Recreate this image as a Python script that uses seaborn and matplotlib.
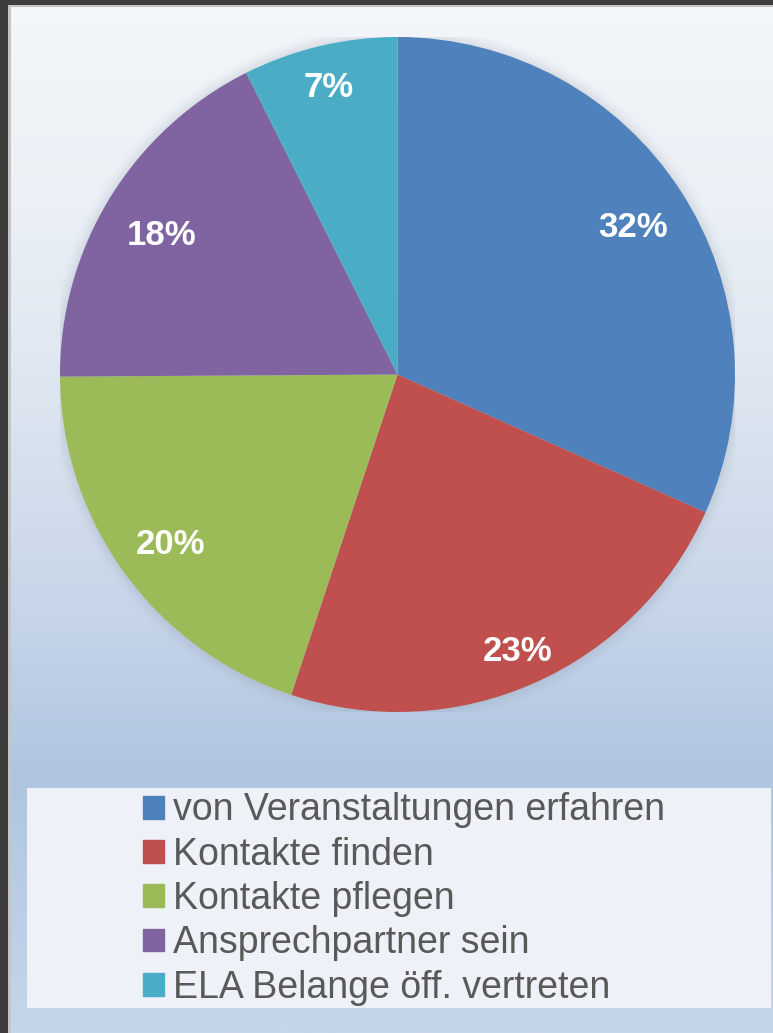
import numpy as np
import matplotlib
matplotlib.use("Agg")
import matplotlib.pyplot as plt
from matplotlib.patches import Rectangle, Circle
from matplotlib.colors import LinearSegmentedColormap
import seaborn as sns

# ---- data ----
categories = ["von Veranstaltungen erfahren", "Kontakte finden", "Kontakte pflegen",
              "Ansprechpartner sein", "ELA Belange öff. vertreten"]
values = [31.7, 23.4, 19.8, 17.7, 7.4]
colors = ["#4f81bd", "#c0504d", "#9bbb59", "#8064a2", "#4bacc6"]
label_dist = [0.83, 0.88, 0.83, 0.82, 0.89]

sns.set_style("white")
plt.rcParams["font.family"] = ["Liberation Sans", "DejaVu Sans"]

W, H = 773, 1033
fig = plt.figure(figsize=(W / 100, H / 100), dpi=100)

# ---- background gradient ----
bg = fig.add_axes([0, 0, 1, 1], zorder=0)
bg.set_axis_off()
stops = [(0.0, "#f3f6fa"), (0.2, "#ebf0f6"), (0.39, "#dce5f0"),
         (0.58, "#c8d6e9"), (0.755, "#afc5e0"), (1.0, "#c6d6ea")]
cmap = LinearSegmentedColormap.from_list("bg", stops)
grad = np.linspace(0, 1, 512).reshape(-1, 1)
bg.imshow(grad, aspect="auto", cmap=cmap, extent=[0, W, H, 0])
bg.set_xlim(0, W)
bg.set_ylim(H, 0)
# dark window border (top / left) and light inner line
bg.add_patch(Rectangle((0, 0), W, 5, color="#3d3d3d", lw=0))
bg.add_patch(Rectangle((0, 5), W, 2, color="#c4c4c4", lw=0))
bg.add_patch(Rectangle((0, 0), 8, H, color="#3d3d3d", lw=0))
bg.add_patch(Rectangle((8, 5), 3, H, color="#c4c4c4", lw=0))
# legend background
bg.add_patch(Rectangle((27, 788), 744, 220, color="#eef2f8", lw=0))

# ---- pie ----
cx, cy, r = 397.5, 374.5, 337.5
ax = fig.add_axes([(cx - r) / W, (H - cy - r) / H, 2 * r / W, 2 * r / H], zorder=2)
# soft halo
for i, a in enumerate(np.linspace(0.05, 0.01, 6)):
    ax.add_patch(Circle((0, 0), 1.0 + 0.006 * (i + 1), color="#8a94a0", alpha=a, lw=0))
wedges, texts, autotexts = ax.pie(values, colors=colors, startangle=90, counterclock=False,
                                  radius=1.0, autopct="%1.0f%%", pctdistance=0.84,
                                  wedgeprops=dict(linewidth=0),
                                  textprops=dict(color="white", fontsize=25, fontweight="bold"))
for w, t, d in zip(wedges, autotexts, label_dist):
    ang = np.deg2rad((w.theta1 + w.theta2) / 2)
    t.set_position((d * np.cos(ang), d * np.sin(ang) - 0.016))
ax.set_xlim(-1, 1)
ax.set_ylim(-1, 1)
ax.set_aspect("equal")
ax.set_axis_off()

# ---- legend ----
handles = [Rectangle((0, 0), 1, 1, color=c) for c in colors]
leg = fig.legend(handles, categories, loc="center left",
                 bbox_to_anchor=(143 / W, 1 - 899 / H), frameon=False,
                 fontsize=27, handlelength=0.55, handleheight=0.55,
                 handletextpad=0.25, labelspacing=0.22, borderpad=0, borderaxespad=0)
for t in leg.get_texts():
    t.set_color("#595959")

fig.savefig("out.png", dpi=100)
